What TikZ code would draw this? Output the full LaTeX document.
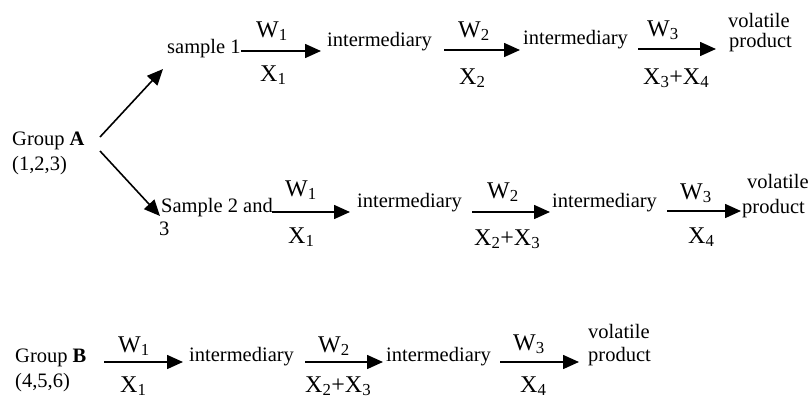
\documentclass[tikz,border=0pt]{standalone}
\usepackage{fontspec}
\setmainfont{Liberation Serif}
\usepackage{tikz}
\usetikzlibrary{arrows.meta}

\begin{document}
\begin{tikzpicture}[x=1pt,y=-1pt,
    txt/.style={inner sep=0pt,anchor=base west,font=\fontsize{20.5}{24}\selectfont},
    lbl/.style={inner sep=0pt,anchor=base west,font=\fontsize{24}{28}\selectfont},
    rxn/.style={line width=1.6pt,-{Triangle[length=16pt,width=14pt]}}]
    \useasboundingbox (0,0) rectangle (812,399);

    % Group A splits into two sample sets
    \node[txt] (gA) at (12,145) {Group \textbf{A}};
    \node[txt] (gAnum) at (12,170) {(1,2,3)};
    \coordinate (upS) at (100,137);
    \coordinate (upE) at (163,69);
    \coordinate (dnS) at (100,151);
    \coordinate (dnE) at (160,216);
    \draw[rxn] (upS) -- (upE);
    \draw[rxn] (dnS) -- (dnE);

    % sample 1
    \node[txt] (s1) at (167,53) {sample 1};
    \node[txt] (s1int1) at (327,46) {intermediary};
    \node[txt] (s1int2) at (523,44) {intermediary};
    \node[txt] (s1vol) at (728,27) {volatile};
    \node[txt] (s1prod) at (729,47) {product};
    \coordinate (s1a) at (241,51);  \coordinate (s1b) at (321,51);
    \coordinate (s1c) at (444,50);  \coordinate (s1d) at (520,50);
    \coordinate (s1e) at (638,49);  \coordinate (s1f) at (716,49);
    \draw[rxn] (s1a) -- (s1b);
    \draw[rxn] (s1c) -- (s1d);
    \draw[rxn] (s1e) -- (s1f);
    \node[lbl] (s1w1) at (256,37) {W\textsubscript{1}};
    \node[lbl] (s1x1) at (260,81) {X\textsubscript{1}};
    \node[lbl] (s1w2) at (458,37) {W\textsubscript{2}};
    \node[lbl] (s1x2) at (459,84) {X\textsubscript{2}};
    \node[lbl] (s1w3) at (647,36) {W\textsubscript{3}};
    \node[lbl] (s1x3) at (643,84) {X\textsubscript{3}+X\textsubscript{4}};

    % Sample 2 and 3
    \node[txt] (s2) at (161,212) {Sample 2 and};
    \node[txt] (s2b) at (159,235) {3};
    \node[txt] (s2int1) at (357,207) {intermediary};
    \node[txt] (s2int2) at (552,207) {intermediary};
    \node[txt] (s2vol) at (747,188) {volatile};
    \node[txt] (s2prod) at (742,213) {product};
    \coordinate (s2a) at (272,212); \coordinate (s2b') at (350,212);
    \coordinate (s2c) at (472,212); \coordinate (s2d) at (550,212);
    \coordinate (s2e) at (667,211); \coordinate (s2f) at (741,211);
    \draw[rxn] (s2a) -- (s2b');
    \draw[rxn] (s2c) -- (s2d);
    \draw[rxn] (s2e) -- (s2f);
    \node[lbl] (s2w1) at (285,196) {W\textsubscript{1}};
    \node[lbl] (s2x1) at (288,243) {X\textsubscript{1}};
    \node[lbl] (s2w2) at (487,198) {W\textsubscript{2}};
    \node[lbl] (s2x2) at (474,245) {X\textsubscript{2}+X\textsubscript{3}};
    \node[lbl] (s2w3) at (680,199) {W\textsubscript{3}};
    \node[lbl] (s2x3) at (688,243) {X\textsubscript{4}};

    % Group B
    \node[txt] (gB) at (15,362) {Group \textbf{B}};
    \node[txt] (gBnum) at (15,387) {(4,5,6)};
    \node[txt] (gBint1) at (189,361) {intermediary};
    \node[txt] (gBint2) at (386,361) {intermediary};
    \node[txt] (gBvol) at (588,338) {volatile};
    \node[txt] (gBprod) at (588,361) {product};
    \coordinate (gBa) at (104,362); \coordinate (gBb) at (183,362);
    \coordinate (gBc) at (305,362); \coordinate (gBd) at (383,362);
    \coordinate (gBe) at (500,362); \coordinate (gBf) at (579,362);
    \draw[rxn] (gBa) -- (gBb);
    \draw[rxn] (gBc) -- (gBd);
    \draw[rxn] (gBe) -- (gBf);
    \node[lbl] (gBw1) at (118,352) {W\textsubscript{1}};
    \node[lbl] (gBx1) at (120,392) {X\textsubscript{1}};
    \node[lbl] (gBw2) at (318,352) {W\textsubscript{2}};
    \node[lbl] (gBx2) at (305,392) {X\textsubscript{2}+X\textsubscript{3}};
    \node[lbl] (gBw3) at (513,350) {W\textsubscript{3}};
    \node[lbl] (gBx3) at (520,392) {X\textsubscript{4}};
\end{tikzpicture}
\end{document}
